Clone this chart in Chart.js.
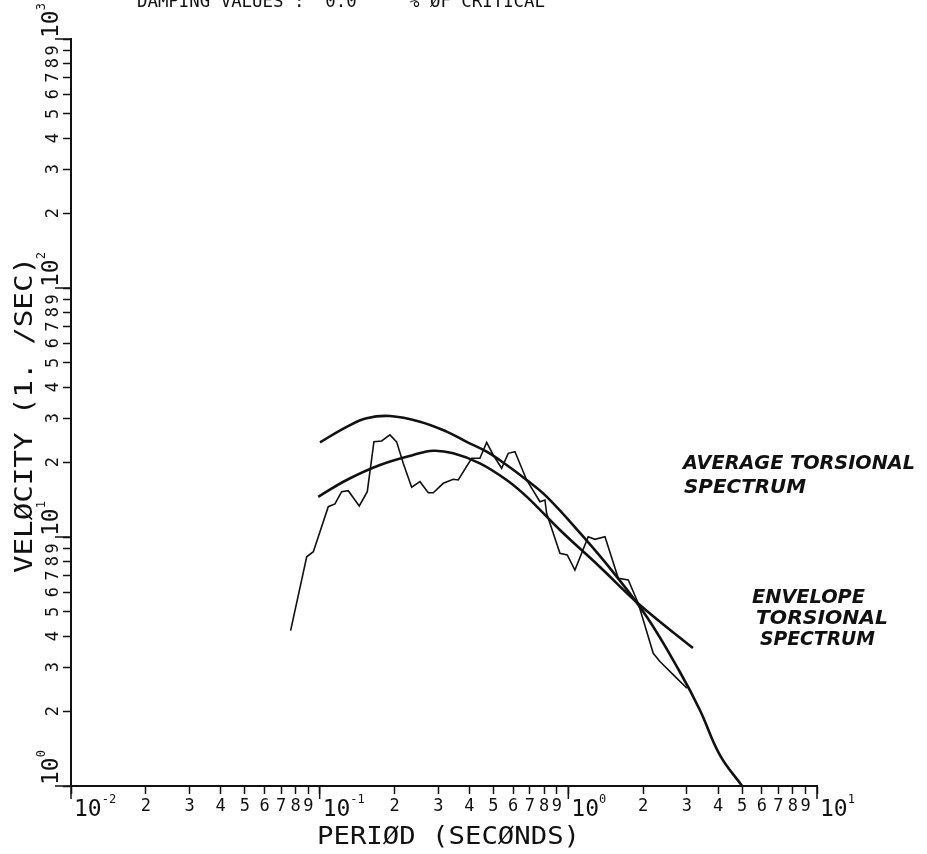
<!DOCTYPE html>
<html>
<head>
<meta charset="utf-8">
<script src="https://cdn.jsdelivr.net/npm/chart.js@4.4.1/dist/chart.umd.min.js"></script>
<style>
  html, body { margin: 0; padding: 0; background: #fff; }
  #wrap { width: 927px; height: 854px; }
</style>
</head>
<body>
<div id="wrap"><canvas id="chart" width="927" height="854"></canvas></div>
<script>
// single record spectrum (period s, velocity)
const recordPeriod = [0.0764, 0.0887, 0.0943, 0.1083, 0.1152, 0.1226, 0.1303, 0.1443, 0.1554, 0.1653,
  0.1775, 0.1917, 0.2039, 0.2168, 0.2344, 0.2531, 0.2734, 0.2863, 0.3141, 0.3445, 0.3608, 0.4086,
  0.441, 0.4694, 0.4989, 0.5393, 0.5731, 0.61, 0.6797, 0.7688, 0.8052, 0.8179, 0.9252, 0.9899,
  1.063, 1.202, 1.279, 1.404, 1.588, 1.742, 1.91, 2.195, 2.335, 2.727, 3.0];
const recordVel = [4.21, 8.33, 8.73, 13.24, 13.57, 15.2, 15.35, 13.32, 15.2, 24.14,
  24.3, 25.7, 24.1, 19.77, 15.84, 16.68, 15.06, 15.06, 16.43, 17.05, 16.94, 20.71,
  20.71, 24.0, 21.35, 18.88, 21.68, 22.0, 16.94, 13.86, 14.08, 12.45, 8.6, 8.47,
  7.37, 10.03, 9.79, 10.03, 6.83, 6.72, 5.42, 3.41, 3.16, 2.71, 2.47];

// envelope torsional spectrum (upper smooth curve)
const envPeriod = [0.1003, 0.1284, 0.1545, 0.1917, 0.2531, 0.3241, 0.39, 0.4694, 0.5648, 0.6797,
  0.8179, 1.114, 1.511, 2.07, 2.81, 3.38, 4.07, 5.0];
const envVel = [24.0, 27.7, 29.98, 30.6, 29.05, 26.5, 24.1, 22.0, 19.46, 16.94,
  14.52, 10.38, 7.24, 4.77, 2.87, 2.02, 1.33, 1.0];

// average torsional spectrum (lower smooth curve)
const avgPeriod = [0.0987, 0.1284, 0.1748, 0.2379, 0.2863, 0.3445, 0.441, 0.5648, 0.6797, 0.9252,
  1.34, 1.94, 3.17];
const avgVel = [14.5, 16.94, 19.46, 21.35, 22.2, 21.68, 19.77, 16.94, 14.52, 10.67,
  7.58, 5.33, 3.58];

// axes
const xDecades = [-2, -1, 0, 1];
const yDecades = [0, 1, 2, 3];
const minorDigits = [2, 3, 4, 5, 6, 7, 8, 9];

const titleText = 'DAMPING VALUES :  0.0     % ØF CRITICAL';
const xTitle = 'PERIØD (SECØNDS)';
const yTitle = 'VELØCITY (1. /SEC)';
const noteAverage = ['AVERAGE TORSIONAL', 'SPECTRUM'];
const noteEnvelope = ['ENVELOPE', 'TORSIONAL', 'SPECTRUM'];

const pairs = (xs, ys) => xs.map((x, i) => ({ x, y: ys[i] }));

function logTicks(decades) {
  const out = [];
  decades.forEach((d, i) => {
    out.push(Math.pow(10, d));
    if (i < decades.length - 1) minorDigits.forEach(m => out.push(m * Math.pow(10, d)));
  });
  return out;
}

const PLOT = '"DejaVu Sans Mono", monospace';

// draw text squeezed/stretched to a given width
function fitText(ctx, text, x, y, width) {
  const w = ctx.measureText(text).width;
  ctx.save();
  ctx.translate(x, y);
  ctx.scale(width / w, 1);
  ctx.fillText(text, 0, 0);
  ctx.restore();
}

const plotterText = {
  id: 'plotterText',
  afterDraw(chart) {
    const ctx = chart.ctx;
    const xs = chart.scales.x, ys = chart.scales.y;
    const area = chart.chartArea;
    ctx.save();
    ctx.fillStyle = '#111';
    ctx.strokeStyle = '#111';
    ctx.textBaseline = 'alphabetic';

    // longer decade ticks
    ctx.lineWidth = 1.5;
    ctx.beginPath();
    xDecades.forEach(d => {
      const px = xs.getPixelForValue(Math.pow(10, d));
      ctx.moveTo(px, area.bottom);
      ctx.lineTo(px, area.bottom + 13);
    });
    yDecades.forEach(d => {
      const py = ys.getPixelForValue(Math.pow(10, d));
      ctx.moveTo(area.left, py);
      ctx.lineTo(area.left - 16, py);
    });
    ctx.stroke();

    // x tick labels
    ctx.textAlign = 'center';
    ctx.font = '17px ' + PLOT;
    xDecades.slice(0, -1).forEach(d => {
      minorDigits.forEach(m => {
        ctx.fillText(String(m), xs.getPixelForValue(m * Math.pow(10, d)), 811);
      });
    });
    ctx.textAlign = 'left';
    xDecades.forEach(d => {
      const px = xs.getPixelForValue(Math.pow(10, d));
      ctx.font = '23px ' + PLOT;
      ctx.fillText('10', px + 3, 816);
      const w = ctx.measureText('10').width;
      ctx.font = '12px ' + PLOT;
      ctx.fillText(String(d), px + 3 + w, 803);
    });

    // y tick labels, rotated
    yDecades.forEach((d, i) => {
      const base = ys.getPixelForValue(Math.pow(10, d));
      ctx.save();
      ctx.translate(58, base);
      ctx.rotate(-Math.PI / 2);
      ctx.textAlign = 'left';
      ctx.font = '23px ' + PLOT;
      ctx.fillText('10', 1, 0);
      const w = ctx.measureText('10').width;
      ctx.font = '12px ' + PLOT;
      ctx.fillText(String(d), 1 + w, -13);
      ctx.restore();
      if (i < yDecades.length - 1) {
        minorDigits.forEach(m => {
          const py = ys.getPixelForValue(m * Math.pow(10, d));
          ctx.save();
          ctx.translate(58, py);
          ctx.rotate(-Math.PI / 2);
          ctx.textAlign = 'center';
          ctx.font = '17px ' + PLOT;
          ctx.fillText(String(m), 0, 0);
          ctx.restore();
        });
      }
    });

    // axis titles
    ctx.textAlign = 'left';
    ctx.font = '24px ' + PLOT;
    fitText(ctx, xTitle, 317, 844, 263);
    ctx.save();
    ctx.translate(32, 573);
    ctx.rotate(-Math.PI / 2);
    fitText(ctx, yTitle, 0, 0, 316);
    ctx.restore();

    // run title, clipped at the top edge
    ctx.font = '18px ' + PLOT;
    fitText(ctx, titleText, 137, 7, 408);

    // hand-written notes
    ctx.font = 'italic bold 19px "DejaVu Sans", sans-serif';
    fitText(ctx, noteAverage[0], 683, 469, 232);
    fitText(ctx, noteAverage[1], 684, 493, 122);
    fitText(ctx, noteEnvelope[0], 752, 603, 113);
    fitText(ctx, noteEnvelope[1], 756, 624, 132);
    fitText(ctx, noteEnvelope[2], 760, 645, 115);
    ctx.restore();
  }
};

const axisStyle = (decades, min, max) => ({
  type: 'logarithmic',
  min, max,
  afterBuildTicks: s => { s.ticks = logTicks(decades).map(v => ({ value: v })); },
  grid: {
    drawOnChartArea: false,
    drawTicks: true,
    tickLength: 8,
    tickColor: '#111',
    tickWidth: 1.5
  },
  border: { display: true, color: '#111', width: 2 },
  ticks: { display: false },
  title: { display: false }
});

new Chart(document.getElementById('chart'), {
  type: 'line',
  data: {
    datasets: [
      { label: 'Record', data: pairs(recordPeriod, recordVel), borderColor: '#111', borderWidth: 1.6, tension: 0, pointRadius: 0 },
      { label: 'Envelope torsional spectrum', data: pairs(envPeriod, envVel), borderColor: '#111', borderWidth: 2.6, tension: 0.4, pointRadius: 0 },
      { label: 'Average torsional spectrum', data: pairs(avgPeriod, avgVel), borderColor: '#111', borderWidth: 2.6, tension: 0.4, pointRadius: 0 }
    ]
  },
  options: {
    responsive: false,
    animation: false,
    layout: { padding: { left: 63, right: 110, top: 39, bottom: 60 } },
    plugins: { legend: { display: false }, tooltip: { enabled: false } },
    scales: {
      x: axisStyle(xDecades, 0.01, 10),
      y: axisStyle(yDecades, 1, 1000)
    }
  },
  plugins: [plotterText]
});
</script>
</body>
</html>
